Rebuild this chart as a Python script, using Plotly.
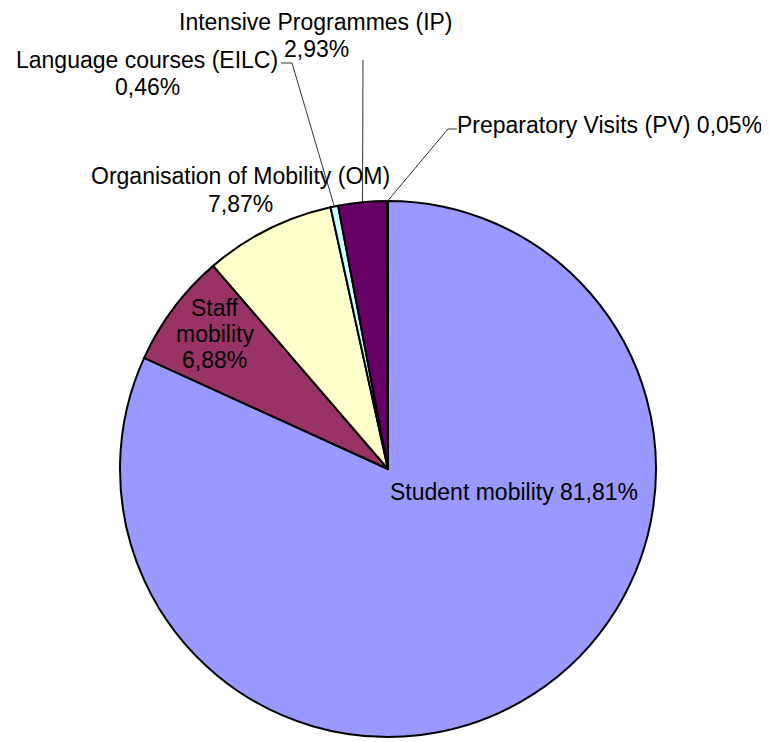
import math
import plotly.graph_objects as go

# Erasmus budget shares (%)
labels = [
    "Student mobility",
    "Staff mobility",
    "Organisation of Mobility (OM)",
    "Language courses (EILC)",
    "Intensive Programmes (IP)",
    "Preparatory Visits (PV)",
]
shares = [81.81, 6.88, 7.87, 0.46, 2.93, 0.05]
colors = ["#9999FF", "#993366", "#FFFFCC", "#CCFFFF", "#660066", "#FF8080"]

W, H = 769, 742
OFF = 8  # default body margin of the html page
CX, CY, R = 388, 469, 268  # pie centre / radius in screen pixels


def to_paper(x, y):
    return (x - OFF) / W, 1 - (y - OFF) / H


def pct(v):
    return f"{v:.2f}".replace(".", ",") + "%"


def slice_mid(i):
    # point on the rim at the middle of slice i (clockwise from 12 o'clock)
    total = sum(shares)
    frac = (sum(shares[:i]) + shares[i] / 2) / total
    ang = 2 * math.pi * frac
    return CX + R * math.sin(ang), CY - R * math.cos(ang)


x0, y1 = to_paper(CX - R, CY - R)
x1, y0 = to_paper(CX + R, CY + R)

fig = go.Figure(go.Pie(
    labels=labels,
    values=shares,
    sort=False,
    direction="clockwise",
    rotation=0,
    textinfo="none",
    hoverinfo="label+percent",
    marker=dict(colors=colors, line=dict(color="black", width=2)),
    domain=dict(x=[x0, x1], y=[y0, y1]),
    showlegend=False,
))

font = dict(family="Liberation Sans, Arial, sans-serif", size=23, color="black")

# label lines: (centre x, first line y, line gap, lines)
label_lines = [
    (514, 492, 27, [f"{labels[0]} {pct(shares[0])}"]),
    (215, 308, 26, ["Staff", "mobility", pct(shares[1])]),
    (240, 176, 28, [labels[2], pct(shares[2])]),
    (147, 60, 27, [labels[3], pct(shares[3])]),
    (316, 22, 27, [labels[4], pct(shares[4])]),
    (609, 125, 0, [f"{labels[5]} {pct(shares[5])}"]),
]

annotations = []
for cx, cy, gap, lines in label_lines:
    for k, line in enumerate(lines):
        xp, yp = to_paper(cx, cy + k * gap)
        annotations.append(dict(
            x=xp, y=yp, xref="paper", yref="paper",
            text=line, showarrow=False, font=font,
            xanchor="center", yanchor="middle",
        ))

# leader lines from labels to the small slices
leaders = {
    3: [(281, 63), (292, 63)],
    4: [(363, 60)],
    5: [(457, 129), (448, 129)],
}
shapes = []
for i, pts in leaders.items():
    pts = pts + [slice_mid(i)]
    path = ""
    for k, (x, y) in enumerate(pts):
        xp, yp = to_paper(x, y)
        path += ("M" if k == 0 else " L") + f" {xp:.5f},{yp:.5f}"
    shapes.append(dict(
        type="path", path=path, xref="paper", yref="paper",
        line=dict(color="#333333", width=1),
    ))

fig.update_layout(
    width=W,
    height=H,
    margin=dict(l=0, r=0, t=0, b=0),
    paper_bgcolor="white",
    plot_bgcolor="white",
    annotations=annotations,
    shapes=shapes,
)

fig.write_html("out.html")
